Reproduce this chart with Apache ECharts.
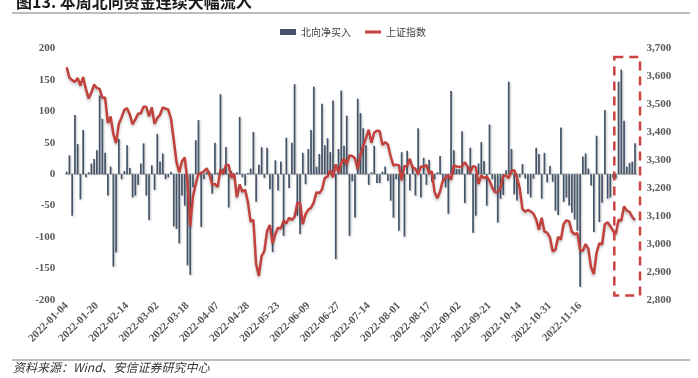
<!DOCTYPE html>
<html>
<head>
<meta charset="utf-8">
<script src="https://cdn.jsdelivr.net/npm/echarts@6/dist/echarts.min.js"></script>
<style>
  html, body { margin: 0; padding: 0; background: #fff; }
  #chart { width: 698px; height: 378px; }
</style>
</head>
<body>
<div id="chart"></div>
<script>
// x-axis labels as printed on the reference (one every 11 bars)
const tickLabels = [
  '2022-01-04', '2022-01-20', '2022-02-14', '2022-03-02', '2022-03-18', '2022-04-07',
  '2022-04-28', '2022-05-23', '2022-06-09', '2022-06-27', '2022-07-14', '2022-08-01',
  '2022-08-17', '2022-09-02', '2022-09-21', '2022-10-14', '2022-10-31', '2022-11-16'
]
const LABEL_STEP = 11

// 北向净买入（亿元）
const netBuy = [
  4, 30, -66, 94, 48, -40, 70, -5, 3, 17, 24, 38, 125, 88, 34, -34, 12, -147, -124, 56,
  -8, 5, 46, 10, -37, -34, -17, 17, 49, -34, -73, 14, -25, 64,
  20, 33, -8, -5, 4, -83, -87, -110, -34, -50, -145, -160, -21, 54, 86, -84, -8, 3, 4, -31,
  50, 2, 127, 9, 43, -53, 5, -8, 3, 91, -5, -18, 2, 9, 67,
  -44, 15, 43, -6, 42, -24, -124, 22, -26, 20, -98, 58, -22, 50, 143, -66, -95, 34, -16, 40,
  70, 139, 12, 32, 112, 46, 57, 35, 117, -135, 40, 133, 45, 93,
  -98, -11, -69, 120, 97, 73, 46, -17, 3, 45, -14, -14, 4, 12, -11, -42, -69, -8, -90, 35,
  -99, 37, -26, 14, -34, 73, -37, 26, -17, 23, -12, -8, 3, 29,
  -11, -21, -63, 132, 38, 8, 8, 68, -46, 13, 42, -93, -66, 17, 51, 21, -50, 79, -8, -29,
  -77, -39, -33, 6, 147, 40, -32, -42, -5, 16, -7, -31, -37, -7, 42,
  32, -39, 34, -13, 13, -12, -58, -65, 74, -44, -37, -50, -61, -72, -90, -179, 28, 33, 9, -18,
  -92, 61, -76, -45, 102, -39, -37, -6, -7, 147, 166, 85, 12, 18, 20, 49
]

// 上证指数（收盘）
const sseIndex = [
  3632, 3595, 3586, 3580, 3594, 3567, 3597, 3555, 3521, 3542, 3570, 3558, 3555, 3523, 3524, 3433, 3456, 3394, 3361,
  3430, 3453, 3480, 3486, 3463, 3429, 3446, 3466, 3468, 3491, 3491, 3457, 3489, 3430, 3451, 3462,
  3489, 3484, 3481, 3448, 3373, 3294, 3256, 3296, 3310, 3224, 3064, 3171, 3215, 3251, 3254, 3260, 3271, 3250, 3212, 3215, 3204, 3267, 3252,
  3283, 3283, 3237, 3252, 3167, 3213, 3187, 3194, 3151, 3080, 3087, 2929, 2886, 2958, 2975, 3047,
  3068, 3002, 3036, 3059, 3055, 3084, 3074, 3094, 3086, 3097, 3147, 3147, 3071, 3107, 3123, 3130, 3149, 3186,
  3182, 3195, 3236, 3242, 3264, 3239, 3285, 3256, 3289, 3305, 3285, 3317, 3315, 3307, 3267, 3320, 3350, 3379, 3409, 3362, 3399,
  3405, 3404, 3355, 3364, 3356, 3314, 3281, 3284, 3282, 3228, 3278, 3279, 3305, 3272, 3270, 3250, 3277, 3276, 3283, 3253,
  3260, 3186, 3164, 3189, 3227, 3237, 3247, 3230, 3282, 3277, 3276, 3278, 3293, 3278, 3258, 3278, 3276, 3215, 3246, 3236, 3241, 3227, 3202,
  3185, 3186, 3200, 3243, 3246, 3236, 3262, 3264, 3238, 3200, 3126, 3116, 3122, 3117, 3109, 3088, 3051, 3094, 3045, 3041, 3024,
  2974, 2980, 3026, 3016, 3072, 3085, 3081, 3044, 3035, 3039, 2978, 2976, 3000, 2983, 2916, 2893,
  2969, 3003, 2998, 3071, 3078, 3064, 3048, 3036, 3087, 3083, 3134, 3120, 3115, 3097, 3085
]

// bars boxed by the dashed frame
const boxFrom = 200
const boxTo = 207

const categories = netBuy.map((_, i) => String(i))

const serif = 'Liberation Serif'
const cjk = 'Noto Sans CJK SC'
const axisText = { fontFamily: serif, fontSize: 11, fontWeight: 'bold', color: '#595959' }

const chart = echarts.init(document.getElementById('chart'))

chart.setOption({
  animation: false,
  title: {
    text: '图13. 本周北向资金连续大幅流入',
    left: 11,
    top: -11,
    textStyle: { fontFamily: cjk, fontSize: 16, fontWeight: 'bold', color: '#1a1a1a' }
  },
  legend: {
    left: 275,
    top: 22,
    itemWidth: 16,
    itemHeight: 6,
    itemGap: 14,
    textStyle: { fontFamily: cjk, fontSize: 10, color: '#404040' },
    data: [
      { name: '北向净买入', icon: 'rect' },
      { name: '上证指数', icon: 'path://M0,0 H16 V3 H0 Z' }
    ]
  },
  grid: { left: 65.3, right: 61.6, top: 48.3, bottom: 78 },
  xAxis: [
    {
      type: 'category',
      data: categories,
      axisLine: { onZero: true, onZeroAxisIndex: 0, lineStyle: { color: '#d9d9d9', width: 2 } },
      axisTick: { show: false },
      axisLabel: { show: false }
    },
    {
      type: 'category',
      data: categories,
      position: 'bottom',
      axisLine: { show: false, onZero: false },
      axisTick: { show: false },
      axisLabel: {
        ...axisText,
        interval: LABEL_STEP - 1,
        rotate: 45,
        margin: 4,
        formatter: (v, i) => tickLabels[i / LABEL_STEP] || ''
      }
    }
  ],
  yAxis: [
    {
      type: 'value',
      min: -200,
      max: 200,
      interval: 50,
      splitLine: { show: false },
      axisLine: { show: false },
      axisTick: { show: false },
      axisLabel: { ...axisText, margin: 10 }
    },
    {
      type: 'value',
      min: 2800,
      max: 3700,
      interval: 100,
      splitLine: { show: false },
      axisLine: { show: false },
      axisTick: { show: false },
      axisLabel: { ...axisText, margin: 10, formatter: v => v.toLocaleString('en-US') }
    }
  ],
  series: [
    {
      name: '北向净买入',
      type: 'bar',
      xAxisIndex: 0,
      yAxisIndex: 0,
      data: netBuy,
      barWidth: '62%',
      itemStyle: {
        color: '#44546a',
        shadowBlur: 2,
        shadowOffsetX: 1,
        shadowOffsetY: 1,
        shadowColor: 'rgba(0,0,0,0.25)'
      }
    },
    {
      name: '上证指数',
      type: 'line',
      xAxisIndex: 0,
      yAxisIndex: 1,
      data: sseIndex,
      symbol: 'none',
      lineStyle: {
        color: '#c3413d',
        width: 2.5,
        shadowBlur: 3,
        shadowOffsetY: 2,
        shadowColor: 'rgba(0,0,0,0.25)'
      },
      itemStyle: { color: '#c3413d' }
    }
  ]
})

// frame lines under title / above source, dashed highlight box
const x0 = chart.convertToPixel({ xAxisIndex: 0 }, boxFrom)
const x1 = chart.convertToPixel({ xAxisIndex: 0 }, boxTo)
const yTop = chart.convertToPixel({ yAxisIndex: 0 }, 186)
const yBot = chart.convertToPixel({ yAxisIndex: 0 }, -193)

chart.setOption({
  graphic: [
    {
      type: 'line',
      shape: { x1: 12, y1: 13, x2: 690, y2: 13 },
      style: { stroke: '#a6a6a6', lineWidth: 1.5 }
    },
    {
      type: 'line',
      shape: { x1: 12, y1: 360, x2: 690, y2: 360 },
      style: { stroke: '#a6a6a6', lineWidth: 1.5 }
    },
    {
      type: 'text',
      left: 13,
      top: 361,
      style: {
        text: '资料来源：Wind、安信证券研究中心',
        font: 'italic 12px "Noto Sans CJK SC"',
        fill: '#333'
      }
    },
    {
      type: 'rect',
      shape: { x: x0 - 1.5, y: yTop, width: x1 - x0 + 6.5, height: yBot - yTop },
      style: { fill: 'none', stroke: '#c9433f', lineWidth: 2.5, lineDash: [9, 6] },
      z: 10
    }
  ]
})
</script>
</body>
</html>
